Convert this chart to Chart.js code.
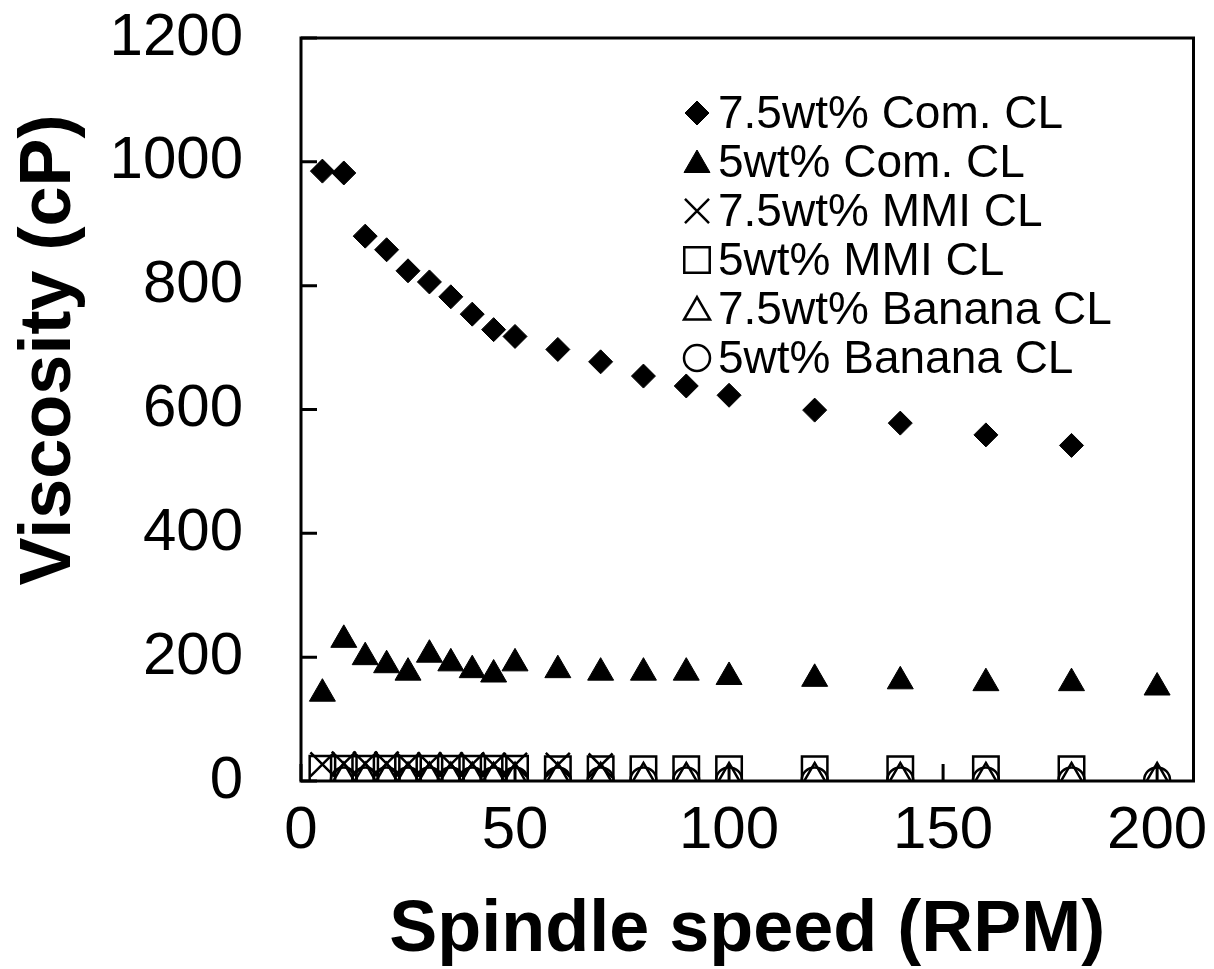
<!DOCTYPE html>
<html>
<head>
<meta charset="utf-8">
<script src="https://cdn.jsdelivr.net/npm/chart.js@4.4.0/dist/chart.umd.min.js"></script>
<style>
    html, body { margin: 0; padding: 0; background: #fff; }
</style>
</head>
<body>
<canvas id="viscosityChart" width="1214" height="969"></canvas>
<script>
// Viscosity vs spindle speed
const rpmCom75 = [5, 10, 15, 20, 25, 30, 35, 40, 45, 50, 60, 70, 80, 90, 100, 120, 140, 160, 180];
const viscCom75 = [985, 982, 880, 858, 824, 806, 782, 754, 729, 718, 697, 677, 654, 638, 623, 599, 578, 559, 542];

const rpmCom5 = [5, 10, 15, 20, 25, 30, 35, 40, 45, 50, 60, 70, 80, 90, 100, 120, 140, 160, 180, 200];
const viscCom5 = [141, 228, 200, 187, 175, 204, 190, 179, 172, 190, 179, 175, 175, 175, 168, 165, 161, 158, 158, 151];

const rpmMmi75 = [5, 10, 15, 20, 25, 30, 35, 40, 45, 50, 60, 70];
const viscMmi75 = [27, 28, 28, 28, 27, 27, 27, 27, 26, 26, 26, 25];

const rpmMmi5 = [5, 10, 15, 20, 25, 30, 35, 40, 45, 50, 60, 70, 80, 90, 100, 120, 140, 160, 180];
const viscMmi5 = [20, 20, 20, 20, 20, 20, 20, 20, 20, 20, 19, 19, 19, 19, 19, 19, 19, 19, 19];

const rpmBan75 = [10, 15, 20, 25, 30, 35, 40, 45, 50, 60, 70, 80, 90, 100, 120, 140, 160, 180, 200];
const viscBan75 = [5, 5, 5, 5, 5, 5, 5, 5, 5, 5, 5, 5, 5, 5, 5, 5, 5, 5, 5];

const rpmBan5 = [10, 15, 20, 25, 30, 35, 40, 45, 50, 60, 70, 80, 90, 100, 120, 140, 160, 180, 200];
const viscBan5 = [1, 1, 1, 1, 1, 1, 1, 1, 1, 1, 1, 1, 1, 1, 1, 1, 1, 1, 1];

const seriesNames = ['7.5wt% Com. CL', '5wt% Com. CL', '7.5wt% MMI CL', '5wt% MMI CL', '7.5wt% Banana CL', '5wt% Banana CL'];
const xTicks = [0, 50, 100, 150, 200];
const yTicks = [0, 200, 400, 600, 800, 1000, 1200];
const xTitle = 'Spindle speed (RPM)';
const yTitle = 'Viscosity (cP)';

const FONT = 'Arial, "Liberation Sans", sans-serif';

function toPoints(xs, ys) {
    return xs.map((x, i) => ({ x: x, y: ys[i] }));
}

function makeSet(label, xs, ys, style, radius, filled, bw) {
    return {
        label: label,
        data: toPoints(xs, ys),
        showLine: false,
        pointStyle: style,
        pointRadius: radius,
        pointHoverRadius: radius,
        pointBorderWidth: bw,
        pointBorderColor: '#000',
        pointBackgroundColor: filled ? '#000' : 'rgba(0,0,0,0)'
    };
}

const datasets = [
    makeSet(seriesNames[0], rpmCom75, viscCom75, 'rectRot', 12, true, 1),
    makeSet(seriesNames[1], rpmCom5, viscCom5, 'triangle', 15, true, 1),
    makeSet(seriesNames[2], rpmMmi75, viscMmi75, 'crossRot', 17, false, 2.5),
    makeSet(seriesNames[3], rpmMmi5, viscMmi5, 'rect', 18, false, 2.5),
    makeSet(seriesNames[4], rpmBan75, viscBan75, 'triangle', 15, false, 2.5),
    makeSet(seriesNames[5], rpmBan5, viscBan5, 'circle', 13, false, 2.5)
];

// sin relleno extra por las etiquetas de los extremos
function noOverhang(s) {
    s.paddingTop = 0;
    s.paddingBottom = 0;
    s.paddingLeft = 0;
    s.paddingRight = 0;
}

// caja del grafico, marcas hacia dentro, titulo Y y leyenda dentro del area
const framePlugin = {
    id: 'framePlugin',
    beforeDatasetsDraw(chart) {
        const { ctx, chartArea: a, scales } = chart;
        ctx.save();
        ctx.strokeStyle = '#000';
        ctx.lineWidth = 3;
        ctx.strokeRect(a.left, a.top, a.right - a.left, a.bottom - a.top);
        ctx.beginPath();
        yTicks.forEach(v => {
            const py = scales.y.getPixelForValue(v);
            ctx.moveTo(a.left, py);
            ctx.lineTo(a.left + 16, py);
        });
        xTicks.forEach(v => {
            const px = scales.x.getPixelForValue(v);
            ctx.moveTo(px, a.bottom);
            ctx.lineTo(px, a.bottom - 17);
        });
        ctx.stroke();
        ctx.restore();
    },
    afterDraw(chart) {
        const ctx = chart.ctx;
        ctx.save();
        // titulo del eje Y
        ctx.translate(50, 350);
        ctx.rotate(-Math.PI / 2);
        ctx.font = 'bold 72px ' + FONT;
        ctx.fillStyle = '#000';
        ctx.textAlign = 'center';
        ctx.textBaseline = 'middle';
        ctx.fillText(yTitle, 0, 0);
        ctx.restore();

        ctx.save();
        ctx.font = '46px ' + FONT;
        ctx.textBaseline = 'middle';
        ctx.textAlign = 'left';
        chart.data.datasets.forEach((ds, i) => {
            const cy = 113 + i * 49;
            const cx = 697;
            ctx.fillStyle = ds.pointBackgroundColor;
            ctx.strokeStyle = '#000';
            ctx.lineWidth = ds.pointBorderWidth;
            Chart.helpers.drawPoint(ctx, {
                pointStyle: ds.pointStyle,
                radius: ds.pointRadius,
                borderWidth: ds.pointBorderWidth,
                rotation: 0
            }, cx, ds.pointStyle === 'triangle' ? cy + 3 : cy);
            ctx.fillStyle = '#000';
            ctx.fillText(ds.label, 718, cy + 2);
        });
        ctx.restore();
    }
};

const ctx = document.getElementById('viscosityChart').getContext('2d');
const chart = new Chart(ctx, {
    type: 'scatter',
    data: { datasets: datasets },
    options: {
        responsive: false,
        animation: false,
        events: [],
        layout: { padding: { top: 38, right: 17, left: 0, bottom: 0 } },
        plugins: {
            legend: { display: false },
            tooltip: { enabled: false }
        },
        scales: {
            x: {
                type: 'linear',
                min: 0,
                max: 208.5,
                afterBuildTicks: s => { s.ticks = xTicks.map(v => ({ value: v })); },
                afterFit: s => { s.height = 188; noOverhang(s); },
                grid: { display: false, drawTicks: false },
                border: { display: false },
                ticks: {
                    color: '#000',
                    padding: 14,
                    maxRotation: 0,
                    callback: v => String(v),
                    font: { family: FONT, size: 60 }
                },
                title: {
                    display: true,
                    text: xTitle,
                    color: '#000',
                    padding: { top: 0, bottom: 0 },
                    font: { family: FONT, size: 72, weight: 'bold', lineHeight: 1.05 }
                }
            },
            y: {
                type: 'linear',
                min: 0,
                max: 1200,
                afterBuildTicks: s => { s.ticks = yTicks.map(v => ({ value: v })); },
                afterFit: s => { s.width = 301; noOverhang(s); },
                grid: { display: false, drawTicks: false },
                border: { display: false },
                ticks: {
                    color: '#000',
                    padding: 58,
                    callback: v => String(v),
                    font: { family: FONT, size: 60 }
                },
                title: { display: false }
            }
        }
    },
    plugins: [framePlugin]
});
</script>
</body>
</html>
